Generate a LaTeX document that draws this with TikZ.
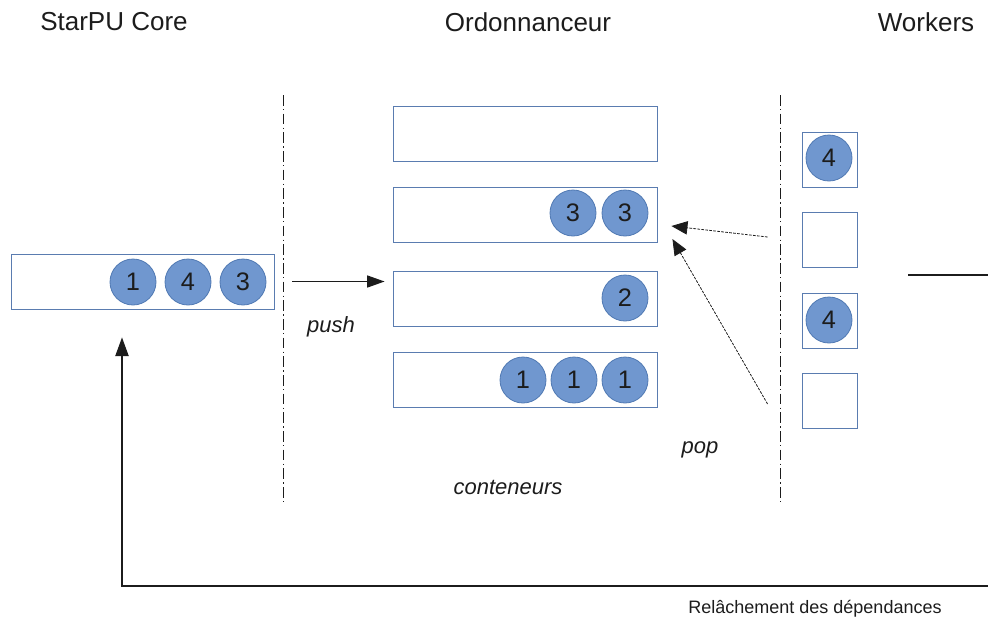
\documentclass[tikz,border=0pt]{standalone}
\usepackage{fontspec}
\setmainfont{Liberation Sans}
\usetikzlibrary{arrows.meta,positioning,calc}
\definecolor{spBox}{HTML}{5A7CB0}
\definecolor{spTask}{HTML}{7097CF}
\definecolor{spTaskLine}{HTML}{5079B3}
\definecolor{spInk}{HTML}{1C1C1C}

\begin{document}
\begin{tikzpicture}[x=0.75pt, y=-0.75pt,
  title/.style={font=\fontsize{19.5}{21}\selectfont, text=spInk, inner sep=0pt},
  note/.style={font=\fontsize{16.5}{18}\selectfont\itshape, text=spInk, inner sep=0pt, anchor=base},
  queue/.style={draw=spBox, line width=0.65pt, minimum width=198pt, minimum height=41.25pt, inner sep=0pt},
  slot/.style={draw=spBox, line width=0.65pt, minimum width=41.25pt, minimum height=41.25pt, inner sep=0pt},
  task/.style={circle, draw=spTaskLine, line width=0.6pt, fill=spTask, minimum size=34.5pt, inner sep=0pt, text=spInk, font=\fontsize{19}{20}\selectfont},
  border/.style={line width=0.75pt, color=spInk, dash pattern=on 8pt off 2.5pt on 1pt off 2.5pt},
  arr/.style={-{Triangle[length=13pt, width=9pt]}, line width=0.9pt, color=spInk},
  poparr/.style={-{Triangle[length=12pt, width=10pt]}, line width=0.6pt, color=spInk, dash pattern=on 2pt off 1pt}
]
  \useasboundingbox (0,0) rectangle (988,619);

  % titres des colonnes
  \node[title] (tcore) at (114,22) {StarPU Core};
  \node[title] (tsched) at (528,22) {Ordonnanceur};
  \node[title] (tworkers) at (926,22) {Workers};

  % separations
  \coordinate (sepAtop) at (283,95);
  \coordinate (sepAbot) at (283,505);
  \coordinate (sepBtop) at (780,95);
  \coordinate (sepBbot) at (780,505);
  \draw[border] (sepAtop) -- (sepAbot);
  \draw[border] (sepBtop) -- (sepBbot);

  % StarPU Core
  \node[queue, minimum width=197.25pt] (core) at (142.5,281.5) {};
  \node[task] (k1) at (133,282) {1};
  \node[task] (k4) at (188,282) {4};
  \node[task] (k3) at (243,282) {3};

  % conteneurs de l'ordonnanceur
  \node[queue] (cont1) at (525,133.5) {};
  \node[queue] (cont2) at (525,214.5) {};
  \node[queue] (cont3) at (525,298.5) {};
  \node[queue] (cont4) at (525,379.5) {};
  \node[task] (c2a) at (573,213) {3};
  \node[task] (c2b) at (625,213) {3};
  \node[task] (c3a) at (625,298) {2};
  \node[task] (c4a) at (523,380) {1};
  \node[task] (c4b) at (574,380) {1};
  \node[task] (c4c) at (625,380) {1};
  \node[note] (lcont) at (508,494) {conteneurs};

  % workers
  \node[slot] (w1) at (829.5,159.5) {};
  \node[slot] (w2) at (829.5,239.5) {};
  \node[slot] (w3) at (829.5,320.5) {};
  \node[slot] (w4) at (829.5,401) {};
  \node[task] (w1t) at (829,158) {4};
  \node[task] (w3t) at (829,320) {4};
  \coordinate (stubA) at (908,275);
  \coordinate (stubB) at (988,275);
  \draw[line width=0.8pt, color=spInk] (stubA) -- (stubB);

  % push
  \draw[arr, shorten <=18pt*0.75, shorten >=8pt*0.75] (core.east) -- (core.east -| cont3.west);
  \node[note] (lpush) at (331,332) {push};

  % pop
  \coordinate (popA) at ($(w2.west)+(-34,-2.5)$);
  \coordinate (popB) at ($(w4.west)+(-34,3)$);
  \draw[poparr] (popA) -- ($(cont2.east)+(14,11.5)$);
  \draw[poparr] (popB) -- ($(cont2.east)+(15,24.5)$);
  \node[note] (lpop) at (700,453) {pop};

  % relachement des dependances
  \coordinate (relax) at (988,586);
  \draw[arr, -{Triangle[length=14pt, width=10pt]}] (relax) -| ($(core.south)+(-20.5,28)$);
  \node[font=\fontsize{13.5}{15}\selectfont, text=spInk, inner sep=0pt, anchor=base] (lrelax) at (815,613) {Relâchement des dépendances};
\end{tikzpicture}
\end{document}
